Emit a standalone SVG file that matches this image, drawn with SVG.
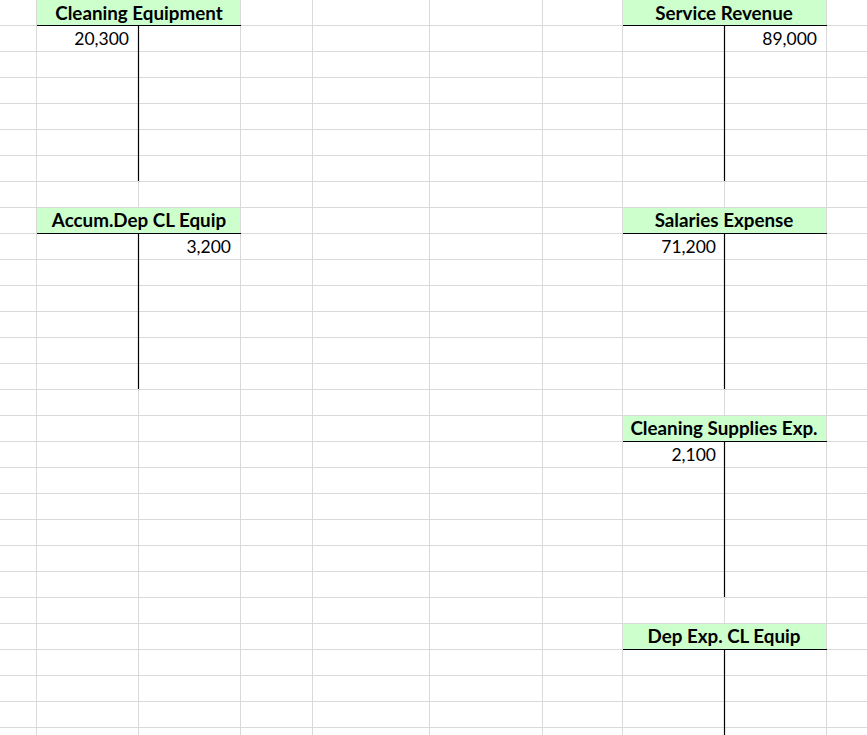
<svg xmlns="http://www.w3.org/2000/svg" width="867" height="735" viewBox="0 0 867 735">
<style>
.g{stroke:#d9d9d9;stroke-width:1}
.hd{fill:#ccffcc}
.bl{stroke:#000;stroke-width:1.2}
.t{font-family:Lato,"Open Sans",sans-serif;font-weight:bold;font-size:18.8px;fill:#000;text-anchor:middle}
.n{font-family:Lato,"Open Sans",sans-serif;font-size:17.5px;fill:#000;text-anchor:end}
</style>
<rect width="867" height="735" fill="#fff"/>
<g id="grid" class="g">
<path d="M36.5 0V735M138.5 0V735M240.5 0V735M312.5 0V735M429.5 0V735M542.5 0V735M622.5 0V735M724.5 0V735M826.5 0V735"/>
<path d="M0 25.5H867M0 51.5H867M0 77.5H867M0 103.5H867M0 129.5H867M0 155.5H867M0 181.5H867M0 207.5H867M0 233.5H867M0 259.5H867M0 285.5H867M0 311.5H867M0 337.5H867M0 363.5H867M0 389.5H867M0 415.5H867M0 441.5H867M0 467.5H867M0 493.5H867M0 519.5H867M0 545.5H867M0 571.5H867M0 597.5H867M0 623.5H867M0 649.5H867M0 675.5H867M0 701.5H867M0 727.5H867"/>
</g>
<g id="cleaning-equipment">
<rect class="hd" x="37" y="0" width="203" height="25"/>
<path class="bl" d="M37 25.5H241M138.5 25V181"/>
<text class="t" x="139" y="20">Cleaning Equipment</text>
<text class="n" x="129" y="45">20,300</text>
</g>
<g id="accum-dep">
<rect class="hd" x="37" y="208" width="203" height="25"/>
<path class="bl" d="M37 233.5H241M138.5 233V389"/>
<text class="t" x="139" y="227">Accum.Dep CL Equip</text>
<text class="n" x="231" y="253">3,200</text>
</g>
<g id="service-revenue">
<rect class="hd" x="623" y="0" width="203" height="25"/>
<path class="bl" d="M623 25.5H827M724.5 25V181"/>
<text class="t" x="724" y="20">Service Revenue</text>
<text class="n" x="817" y="45">89,000</text>
</g>
<g id="salaries-expense">
<rect class="hd" x="623" y="208" width="203" height="25"/>
<path class="bl" d="M623 233.5H827M724.5 233V389"/>
<text class="t" x="724" y="227">Salaries Expense</text>
<text class="n" x="716" y="253">71,200</text>
</g>
<g id="cleaning-supplies">
<rect class="hd" x="623" y="416" width="203" height="25"/>
<path class="bl" d="M623 441.5H827M724.5 441V597"/>
<text class="t" x="724" y="435">Cleaning Supplies Exp.</text>
<text class="n" x="716" y="461">2,100</text>
</g>
<g id="dep-exp">
<rect class="hd" x="623" y="624" width="203" height="25"/>
<path class="bl" d="M623 649.5H827M724.5 649V735"/>
<text class="t" x="724" y="643">Dep Exp. CL Equip</text>
</g>
<g id="connectors"/>
</svg>
